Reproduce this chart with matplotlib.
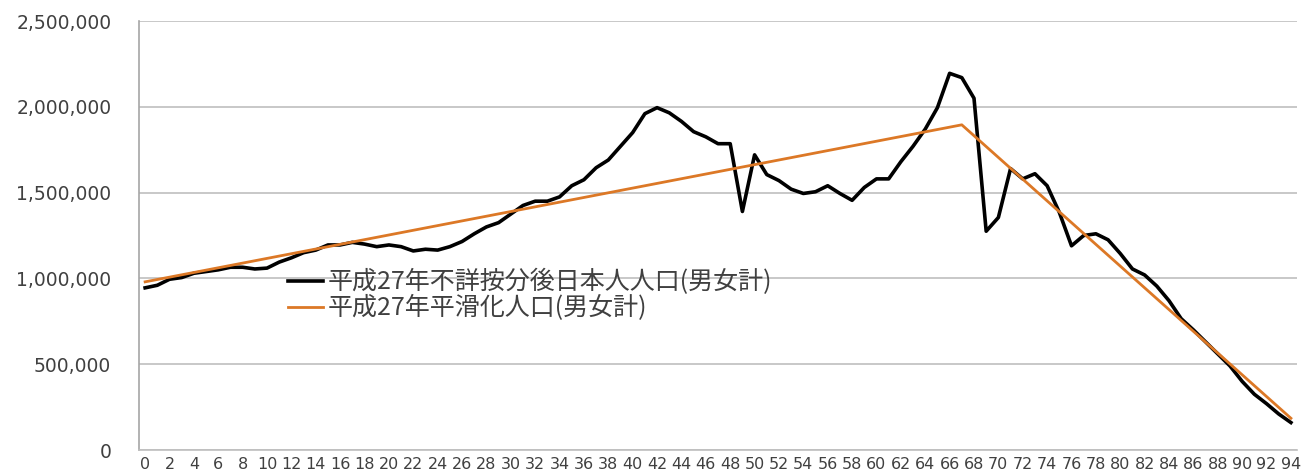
import matplotlib
matplotlib.use('Agg')
import matplotlib.pyplot as plt
from matplotlib.ticker import FuncFormatter

plt.rcParams['font.family'] = ['Noto Sans CJK JP', 'DejaVu Sans']

# ages 0..94
ages = list(range(95))

# population after allocating unknowns (both sexes)
population = [
    945000, 960000, 995000, 1005000, 1030000, 1040000, 1050000, 1065000, 1065000, 1055000,
    1060000, 1095000, 1120000, 1150000, 1165000, 1195000, 1195000, 1210000, 1200000, 1185000,
    1195000, 1185000, 1160000, 1170000, 1165000, 1185000, 1215000, 1260000, 1300000, 1325000,
    1375000, 1425000, 1450000, 1450000, 1475000, 1540000, 1575000, 1645000, 1690000, 1770000,
    1850000, 1960000, 1995000, 1965000, 1915000, 1855000, 1825000, 1785000, 1785000, 1390000,
    1720000, 1605000, 1570000, 1520000, 1495000, 1505000, 1540000, 1495000, 1455000, 1530000,
    1580000, 1580000, 1680000, 1770000, 1870000, 1995000, 2195000, 2170000, 2050000, 1275000,
    1355000, 1640000, 1580000, 1610000, 1540000, 1385000, 1190000, 1250000, 1260000, 1225000,
    1145000, 1055000, 1020000, 955000, 870000, 765000, 700000, 630000, 560000, 490000,
    400000, 325000, 270000, 210000, 160000,
]

# smoothed population: straight segments between these break points
smooth_ages = [0, 67, 94]
smooth_population = [980000, 1895000, 185000]

label_actual = '平成27年不詳按分後日本人人口(男女計)'
label_smooth = '平成27年平滑化人口(男女計)'

y_ticks = [0, 500000, 1000000, 1500000, 2000000, 2500000]
x_ticks = list(range(0, 95, 2))

fig = plt.figure(figsize=(13.03, 4.73), dpi=100)
ax = fig.add_axes([0.1067, 0.0486, 0.8887, 0.907])

ax.plot(ages, population, color='black', lw=2.6, label=label_actual, zorder=3)
ax.plot(smooth_ages, smooth_population, color='#DC7826', lw=2.0, label=label_smooth, zorder=4)

ax.set_xlim(-0.5, 94.5)
ax.set_ylim(0, 2500000)
ax.set_yticks(y_ticks)
ax.set_xticks(x_ticks)
ax.yaxis.set_major_formatter(FuncFormatter(lambda v, pos: f'{int(v):,}'))

ax.grid(axis='y', color='#BFBFBF', lw=1.2)
ax.set_axisbelow(True)
for s in ['top', 'right']:
    ax.spines[s].set_visible(False)
ax.spines['left'].set_color('#A6A6A6')
ax.spines['bottom'].set_color('#BFBFBF')
ax.spines['left'].set_linewidth(1.2)
ax.spines['bottom'].set_linewidth(1.2)

ax.tick_params(axis='y', length=0, pad=20, labelsize=13.5, labelcolor='#404040')
ax.tick_params(axis='x', length=0, pad=5, labelsize=11.5, labelcolor='#404040')
for t in ax.get_yticklabels() + ax.get_xticklabels():
    t.set_family('DejaVu Sans')

leg = ax.legend(loc='upper left', bbox_to_anchor=(0.12, 0.445), frameon=False,
                fontsize=18, handlelength=1.4, handletextpad=0.2, labelspacing=0.0,
                borderaxespad=0)
for t in leg.get_texts():
    t.set_color('#404040')

fig.savefig('out.png', dpi=100)
